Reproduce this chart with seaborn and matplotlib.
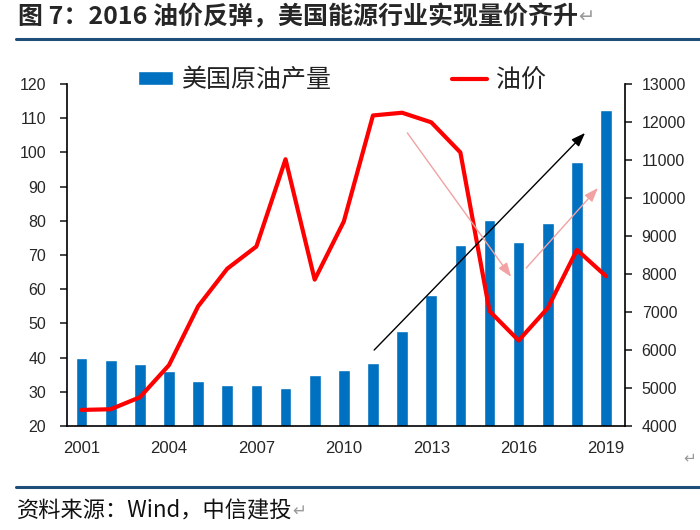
import matplotlib
matplotlib.use("Agg")
import matplotlib.pyplot as plt
import pandas as pd
import seaborn as sns
from matplotlib.lines import Line2D

# 数据
years = [str(y) for y in range(2001, 2020)]
oil_price = [24.7, 24.9, 28.4, 37.8, 55.0, 66.0, 72.5, 98.0, 62.8, 79.8,
             110.8, 111.6, 108.8, 100.0, 53.6, 45.0, 54.5, 71.5, 63.8]
us_output = [5790, 5740, 5640, 5440, 5180, 5080, 5070, 4990, 5330, 5480,
             5660, 6490, 7460, 8770, 9420, 8830, 9340, 10960, 12320]
xtick_labels = ["2001", "2004", "2007", "2010", "2013", "2016", "2019"]

legend_output = "美国原油产量"
legend_price = "油价"
title = "图 7：2016 油价反弹，美国能源行业实现量价齐升"
source = "资料来源：Wind，中信建投"

# 趋势箭头（x 为年份序号，y 为左轴油价）
trend_arrow = ((10.04, 42.2), (17.28, 105.7))
drop_arrow = ((11.18, 105.7), (14.74, 63.6))
rebound_arrow = ((15.26, 66.2), (17.72, 89.6))

BLUE = "#0070C0"
RED = "#FF0000"
PINK = "#F2A2A2"
NAVY = "#1F4E79"
CJK = ["Noto Sans CJK SC", "DejaVu Sans"]

sns.set_style("ticks")
plt.rcParams["font.family"] = ["Liberation Sans", "Noto Sans CJK SC", "DejaVu Sans"]

df = pd.DataFrame({"year": years, "price": oil_price, "output": us_output})

fig = plt.figure(figsize=(7, 5.3), dpi=100)
ax = fig.add_axes([67 / 700, 104 / 530, 558 / 700, 342 / 530])
ax2 = ax.twinx()
ax.set_zorder(ax2.get_zorder() + 1)
ax.patch.set_visible(False)

sns.barplot(data=df, x="year", y="output", color=BLUE, saturation=1,
            width=0.4, ax=ax2, label=legend_output)
sns.lineplot(data=df, x="year", y="price", color=RED, lw=3, ax=ax,
             label=legend_price, sort=False)

ax.set_xlim(-0.5, 18.65)
ax.set_ylim(20, 120)
ax.set_yticks(range(20, 121, 10))
ax2.set_ylim(4000, 13000)
ax2.set_yticks(range(4000, 13001, 1000))
ax.set_xticks(range(0, len(years), 3), labels=xtick_labels)
for a in (ax, ax2):
    a.set_xlabel("")
    a.set_ylabel("")
    a.grid(False)

for side in ("top", "right"):
    ax.spines[side].set_visible(False)
for side in ("top", "left", "bottom"):
    ax2.spines[side].set_visible(False)
for sp in list(ax.spines.values()) + list(ax2.spines.values()):
    sp.set_color("black")
    sp.set_linewidth(1.2)

ax.tick_params(axis="y", direction="out", length=5, width=1.2, labelsize=11.5, pad=10)
ax2.tick_params(axis="y", direction="out", length=5, width=1.2, labelsize=11.5, pad=7)
ax.tick_params(axis="x", length=0, labelsize=12, pad=11)

if ax2.get_legend() is not None:
    ax2.get_legend().remove()
h1, l1 = ax2.get_legend_handles_labels()
h2, l2 = ax.get_legend_handles_labels()
ax.legend(h1 + h2, l1 + l2, ncol=2, loc="center left",
          bbox_to_anchor=(0.127, 1.012), frameon=False,
          prop={"family": CJK, "size": 18}, handlelength=1.4,
          handleheight=0.52, handletextpad=0.36, columnspacing=4.8,
          borderpad=0, borderaxespad=0, labelcolor="#222222")

# 箭头
for (start, end), color in ((trend_arrow, "black"), (drop_arrow, PINK), (rebound_arrow, PINK)):
    ax.annotate("", xy=end, xytext=start,
                arrowprops=dict(arrowstyle="-|>,head_length=0.6,head_width=0.22",
                                color=color, lw=1, mutation_scale=14,
                                shrinkA=0, shrinkB=0))

# 标题与来源
t = fig.text(18 / 700, 1 - 17 / 530, title, family=CJK, weight="bold",
             size=18, va="center", ha="left")
fig.add_artist(Line2D([16 / 700, 1], [1 - 39 / 530] * 2, color=NAVY, lw=2.2,
                      transform=fig.transFigure))
fig.add_artist(Line2D([16 / 700, 1], [1 - 487 / 530] * 2, color=NAVY, lw=2.2,
                      transform=fig.transFigure))
s = fig.text(17 / 700, 1 - 511 / 530, source, family=CJK, size=16,
             va="center", ha="left", color="#111111")
fig.text(690 / 700, 1 - 458 / 530, "↵", size=11, color="#999999",
         va="center", ha="center", family="DejaVu Sans")

renderer = fig.canvas.get_renderer()
inv = fig.transFigure.inverted()
for txt, fs in ((t, 14), (s, 12)):
    bb = txt.get_window_extent(renderer)
    x1, y0 = inv.transform((bb.x1, (bb.y0 + bb.y1) / 2))
    fig.text(x1, y0, "↵", size=fs, color="#999999", va="center", ha="left",
             family="DejaVu Sans")

fig.savefig("out.png", dpi=100)
